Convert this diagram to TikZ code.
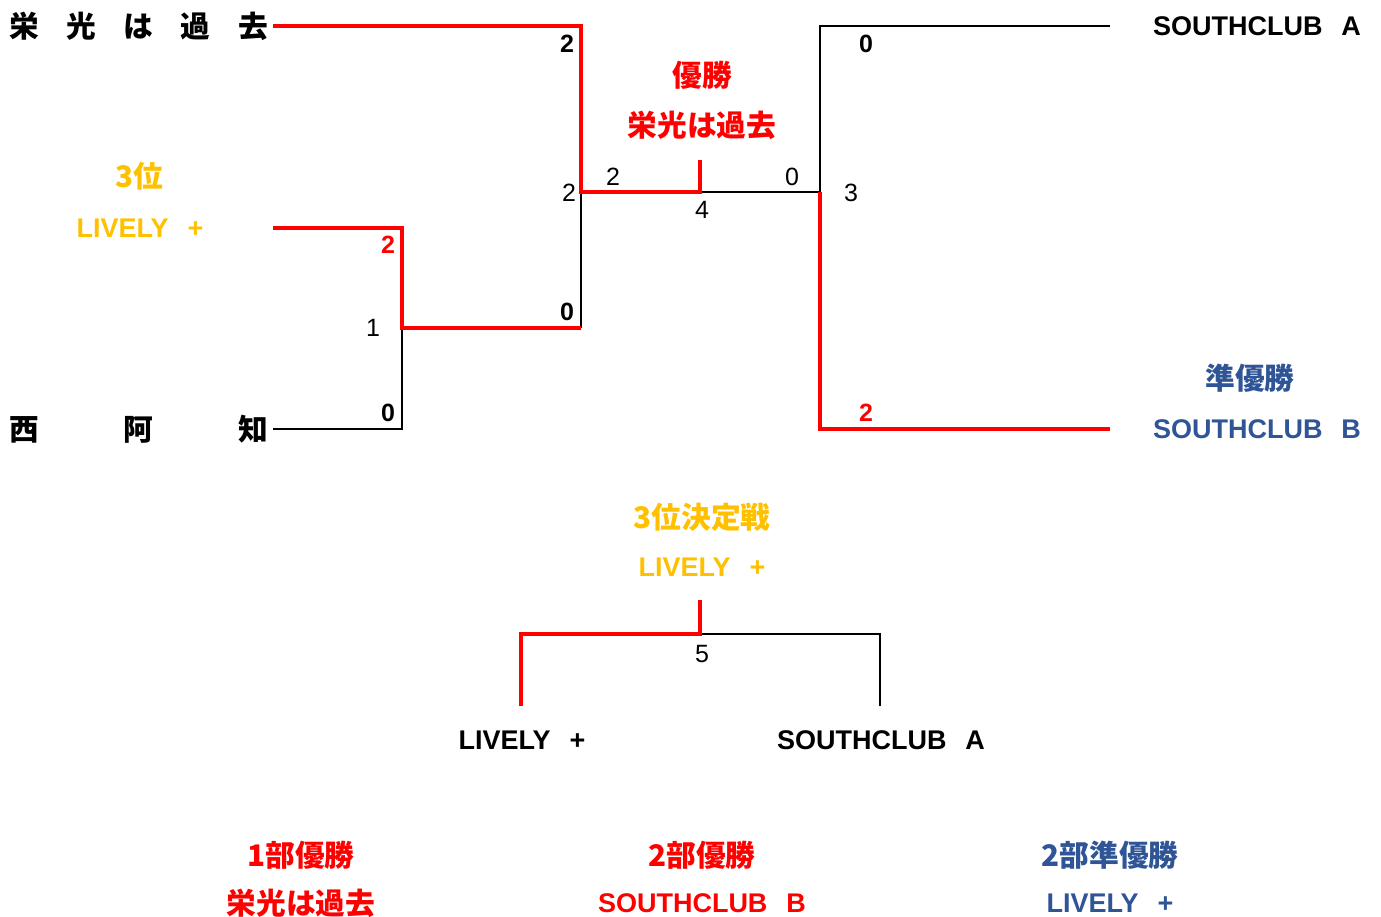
\documentclass[tikz,border=0pt]{standalone}
\usepackage{fontspec}
\setmainfont{Liberation Sans}
\newfontfamily\jpfont{Noto Sans CJK JP}[Scale=1.1]
\newcommand\J[1]{{\jpfont\bfseries #1}}
\definecolor{wred}{RGB}{255,0,0}
\definecolor{gold}{RGB}{255,192,0}
\definecolor{navy}{RGB}{47,85,151}
\tikzset{
  lab/.style={font=\fontsize{27}{27}\selectfont\bfseries, inner sep=0pt},
  sc/.style={font=\fontsize{25}{25}\selectfont, inner sep=0pt},
  scb/.style={font=\fontsize{25}{25}\selectfont\bfseries, inner sep=0pt},
  blk/.style={draw=black, line width=2.8pt, line join=miter},
  win/.style={draw=wred, line width=4pt, line join=miter},
}
\begin{document}
\begin{tikzpicture}[x=1pt,y=-1pt]
\useasboundingbox (0,0) rectangle (1381,917);
% team labels
\node[lab] (eiko) at (138.5,26) {\J{栄\hspace{27.6pt}光\hspace{27.6pt}は\hspace{27.6pt}過\hspace{27.6pt}去}};
\node[lab] (nishi) at (138.5,429) {\J{西\hspace{84.8pt}阿\hspace{84.8pt}知}};
\node[lab, text=gold] (third) at (139,176) {\J{3位}};
\node[lab, text=gold] (lively) at (140,228) {LIVELY\hspace{19pt}+};
\node[lab, text=wred] (champT) at (702,75) {\J{優勝}};
\node[lab, text=wred] (champN) at (702,125) {\J{栄光は過去}};
\node[lab] (sca) at (1257,26) {SOUTHCLUB\hspace{19pt}A};
\node[lab, text=navy] (runT) at (1250,378) {\J{準優勝}};
\node[lab, text=navy] (scb) at (1257,429) {SOUTHCLUB\hspace{19pt}B};
\node[lab, text=gold] (thirdT) at (702,517) {\J{3位決定戦}};
\node[lab, text=gold] (thirdN) at (702,567) {LIVELY\hspace{19pt}+};
\node[lab] (bl) at (522,740) {LIVELY\hspace{19pt}+};
\node[lab] (br) at (881,740) {SOUTHCLUB\hspace{19pt}A};
\node[lab, text=wred] (d1T) at (301,855) {\J{1部優勝}};
\node[lab, text=wred] (d1N) at (301,903) {\J{栄光は過去}};
\node[lab, text=wred] (d2T) at (702,855) {\J{2部優勝}};
\node[lab, text=wred] (d2N) at (702,903) {SOUTHCLUB\hspace{19pt}B};
\node[lab, text=navy] (d2rT) at (1110,855) {\J{2部準優勝}};
\node[lab, text=navy] (d2rN) at (1110,903) {LIVELY\hspace{19pt}+};
% coordinates
\coordinate (a0) at (273,26);
\coordinate (a1) at (581,26);
\coordinate (b0) at (273,228);
\coordinate (b1) at (402,228);
\coordinate (c0) at (273,429);
\coordinate (c1) at (402,429);
\coordinate (m1) at (402,328);
\coordinate (m2) at (581,328);
\coordinate (s1) at (581,192);
\coordinate (f) at (700,192);
\coordinate (fw) at (700,160);
\coordinate (s2) at (820,192);
\coordinate (r0) at (1110,26);
\coordinate (r1) at (820,26);
\coordinate (q0) at (1110,429);
\coordinate (q1) at (820,429);
\coordinate (t) at (700,634);
\coordinate (tw) at (700,600);
\coordinate (tl) at (521,634);
\coordinate (tlb) at (521,706);
\coordinate (tr) at (880,634);
\coordinate (trb) at (880,706);
% black lines
\draw[blk] (c0) -- (c1) -- (m1);
\draw[blk] (m2) -- (s1);
\draw[blk] (f) -- (s2) -- (r1) -- (r0);
\draw[blk] (t) -- (tr) -- (trb);
% red lines
\draw[win] (a0) -- (a1) -- (s1) -- (f) -- (fw);
\draw[win] (b0) -- (b1) -- (m1) -- (m2);
\draw[win] (s2) -- (q1) -- (q0);
\draw[win] (tw) -- (t) -- (tl) -- (tlb);
% scores
\node[scb] (sa) at (567,44) {2};
\node[sc] (sb) at (569,193) {2};
\node[scb] (sc0) at (567,312) {0};
\node[scb, text=wred] (sd) at (388,245) {2};
\node[sc] (se) at (373,328) {1};
\node[scb] (sf) at (388,413) {0};
\node[sc] (sg) at (613,177) {2};
\node[sc] (sh) at (702,210) {4};
\node[sc] (si) at (792,177) {0};
\node[scb] (sj) at (866,44) {0};
\node[sc] (sk) at (851,193) {3};
\node[scb, text=wred] (sl) at (866,413) {2};
\node[sc] (sm) at (702,654) {5};
\end{tikzpicture}
\end{document}
